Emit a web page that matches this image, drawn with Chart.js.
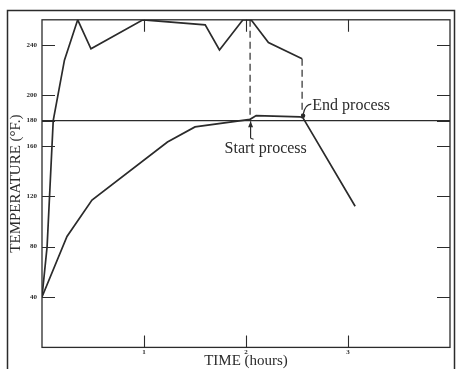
<!DOCTYPE html>
<html>
<head>
<meta charset="utf-8">
<script src="https://cdn.jsdelivr.net/npm/chart.js@4.4.1/dist/chart.umd.min.js"></script>
<style>
  html, body { margin: 0; padding: 0; background: #ffffff; }
  #wrap { width: 456px; height: 369px; position: relative; }
</style>
</head>
<body>
<div id="wrap"><canvas id="c" width="456" height="369"></canvas></div>
<script>
// ---- data ----
const upperTime = [0, 0.05, 0.11, 0.22, 0.35, 0.48, 0.99, 1.6, 1.74, 1.97, 2.05, 2.22, 2.55];
const upperTemp = [40, 80, 180, 228, 260, 237, 260, 256, 236, 260, 260, 242, 229];
const lowerTime = [0, 0.245, 0.49, 1.23, 1.5, 2.04, 2.1, 2.53, 2.56, 3.07];
const lowerTemp = [40, 88, 117, 163, 175, 181, 184, 183, 182, 112];
const refLineTemp = 180;
const startTime = 2.04, startTop = 260, startBottom = 181;
const endTime = 2.55, endTop = 229, endBottom = 183;
const yTickValues = [40, 80, 120, 160, 180, 200, 240];
const xTickValues = [1, 2, 3];
const xTitle = 'TIME (hours)';
const yTitle = 'TEMPERATURE (\u00B0F.)';
const startLabel = 'Start process';
const endLabel = 'End process';

const ink = '#2b2b2b';
const serif = '"Liberation Serif", "DejaVu Serif", serif';

const pts = (xs, ys) => xs.map((x, i) => ({ x: x, y: ys[i] }));

const framePlugin = {
  id: 'frame',
  beforeDraw(chart) {
    const ctx = chart.ctx;
    ctx.save();
    ctx.fillStyle = '#ffffff';
    ctx.fillRect(0, 0, chart.width, chart.height);
    ctx.restore();
  },
  afterDraw(chart) {
    const ctx = chart.ctx;
    const a = chart.chartArea;
    const xs = chart.scales.x, ys = chart.scales.y;
    ctx.save();
    ctx.strokeStyle = ink;
    // outer frame
    ctx.lineWidth = 1.5;
    ctx.strokeRect(7.5, 10.5, 447, 370);
    // plot frame
    ctx.lineWidth = 1.3;
    ctx.strokeRect(a.left, a.top, a.right - a.left, a.bottom - a.top);
    // inward ticks
    ctx.lineWidth = 1.1;
    ctx.beginPath();
    yTickValues.forEach(v => {
      const py = Math.round(ys.getPixelForValue(v)) + 0.5;
      ctx.moveTo(a.left, py); ctx.lineTo(a.left + 13, py);
      ctx.moveTo(a.right - 13, py); ctx.lineTo(a.right, py);
    });
    xTickValues.forEach(v => {
      const px = Math.round(xs.getPixelForValue(v)) + 0.5;
      ctx.moveTo(px, a.bottom); ctx.lineTo(px, a.bottom - 12);
      ctx.moveTo(px, a.top); ctx.lineTo(px, a.top + 12);
    });
    ctx.stroke();

    // annotations
    ctx.fillStyle = ink;
    ctx.font = '16px ' + serif;
    ctx.textBaseline = 'middle';
    ctx.textAlign = 'left';
    ctx.fillText(startLabel, xs.getPixelForValue(1.79), ys.getPixelForValue(158));
    ctx.fillText(endLabel, xs.getPixelForValue(2.65), ys.getPixelForValue(192));

    // start arrow (pointing up to the curve)
    const sx = xs.getPixelForValue(startTime) + 0.5;
    const sTop = ys.getPixelForValue(startBottom) + 2;
    const sBot = ys.getPixelForValue(166);
    ctx.lineWidth = 1.2;
    ctx.beginPath();
    ctx.moveTo(sx, sBot); ctx.lineTo(sx, sTop); ctx.stroke();
    ctx.beginPath();
    ctx.moveTo(sx, sTop); ctx.lineTo(sx - 2.5, sTop + 6); ctx.lineTo(sx + 2.5, sTop + 6); ctx.closePath(); ctx.fill();
    ctx.beginPath();
    ctx.moveTo(sx, sBot); ctx.lineTo(sx + 3, sBot + 1); ctx.stroke();

    // end leader
    const ex = xs.getPixelForValue(endTime);
    const ey = ys.getPixelForValue(endBottom);
    ctx.beginPath();
    ctx.moveTo(xs.getPixelForValue(2.64), ys.getPixelForValue(193));
    ctx.quadraticCurveTo(ex + 3, ys.getPixelForValue(193), ex + 1, ey - 2);
    ctx.stroke();
    ctx.beginPath();
    ctx.arc(ex + 1, ey - 1, 2.2, 0, Math.PI * 2);
    ctx.fill();
    ctx.restore();
  }
};

new Chart(document.getElementById('c'), {
  type: 'line',
  data: {
    datasets: [
      { data: pts(upperTime, upperTemp), borderColor: ink, borderWidth: 1.7 },
      { data: pts(lowerTime, lowerTemp), borderColor: ink, borderWidth: 1.7 },
      { data: pts([0, 4], [refLineTemp, refLineTemp]), borderColor: ink, borderWidth: 1.1 },
      { data: pts([startTime, startTime], [startTop, startBottom]), borderColor: ink, borderWidth: 1.2, borderDash: [7, 4] },
      { data: pts([endTime, endTime], [endTop, endBottom]), borderColor: ink, borderWidth: 1.2, borderDash: [7, 4] }
    ]
  },
  options: {
    responsive: false,
    animation: false,
    devicePixelRatio: 1,
    layout: { padding: { top: 19.8, right: 6, left: 0, bottom: 0 } },
    elements: { point: { radius: 0 }, line: { tension: 0 } },
    plugins: { legend: { display: false }, tooltip: { enabled: false } },
    scales: {
      x: {
        type: 'linear', min: 0, max: 4,
        grid: { display: false, drawTicks: false },
        border: { display: false },
        afterBuildTicks: s => { s.ticks = xTickValues.map(v => ({ value: v })); },
        afterFit: s => { s.height = 21.6; },
        ticks: { color: ink, padding: 1, font: { family: serif, size: 7, weight: 'bold' }, maxRotation: 0, autoSkip: false },
        title: { display: true, text: xTitle, color: ink, padding: 0, font: { family: serif, size: 15, lineHeight: 1 } }
      },
      y: {
        type: 'linear', min: 0, max: 260,
        grid: { display: false, drawTicks: false },
        border: { display: false },
        afterBuildTicks: s => { s.ticks = yTickValues.map(v => ({ value: v })); },
        afterFit: s => { s.width = 42; },
        ticks: { color: ink, padding: 5, font: { family: serif, size: 7, weight: 'bold' }, autoSkip: false },
        title: { display: true, text: yTitle, color: ink, padding: { top: 9, bottom: 0 }, font: { family: serif, size: 15, lineHeight: 1 } }
      }
    }
  },
  plugins: [framePlugin]
});
</script>
</body>
</html>
